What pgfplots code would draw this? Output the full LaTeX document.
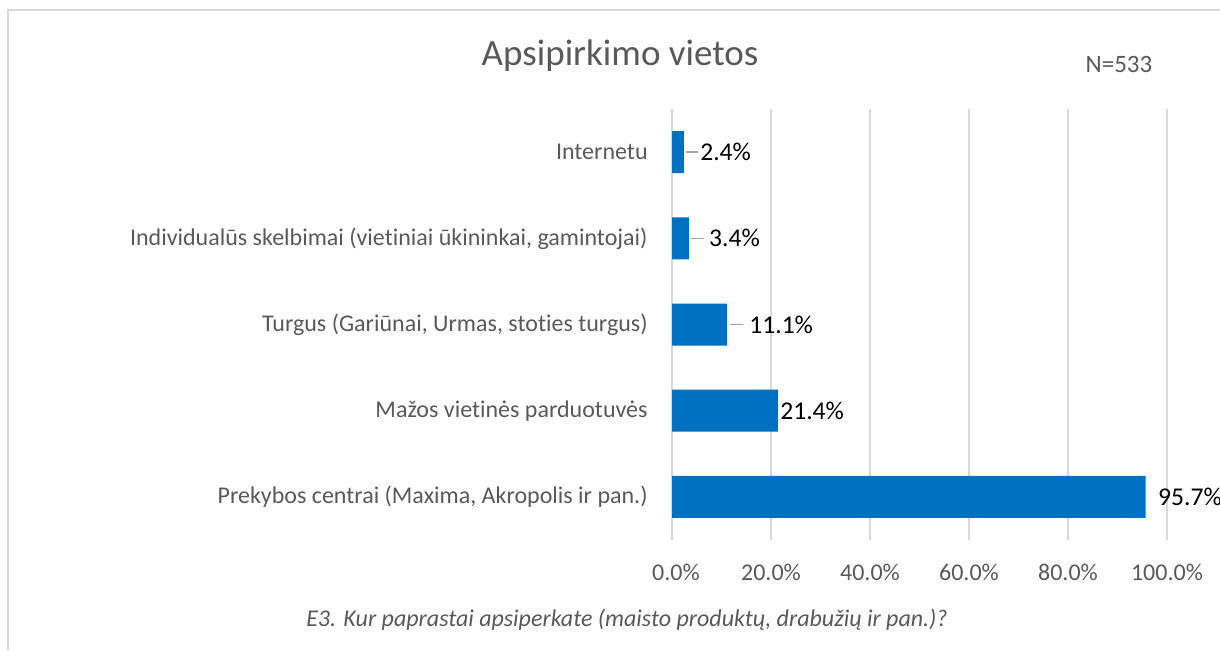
\documentclass[border=0pt]{standalone}
\usepackage{pgfplots}
\pgfplotsset{compat=1.18}
\usepackage{pgfplotstable}
\usepackage{fontspec}
\setmainfont{Carlito}[Ligatures=NoCommon]
\definecolor{barblue}{RGB}{0,112,192}
\definecolor{txtgray}{RGB}{89,89,89}
\definecolor{gridgray}{RGB}{217,217,217}
\definecolor{leadgray}{RGB}{166,166,166}

% rows bottom to top; dx = label gap after bar end (pt)
\pgfplotstableread{
idx val dx
0 95.7 6
1 21.4 1
2 11.1 11
3 3.4 10
4 2.4 8
}\shops

\begin{document}
\begin{tikzpicture}
\useasboundingbox (0,0) rectangle (610pt,325pt);
\draw[gridgray, line width=0.8pt] (4pt,0) -- (4pt,320pt) -- (611pt,320pt);
\node[font=\fontsize{18.5}{20}\selectfont, text=txtgray] at (310pt,297pt) {Apsipirkimo vietos};
\node[font=\fontsize{12.5}{14}\selectfont, text=txtgray] at (559.5pt,293pt) {N=533};
\begin{axis}[
  at={(336pt,55pt)}, anchor=south west,
  scale only axis, width=247.5pt, height=215.5pt,
  xmin=0, xmax=100, ymin=-0.5, ymax=4.5,
  xbar, bar width=21pt,
  axis x line=none,
  axis y line*=left,
  axis line style={gridgray, line width=0.8pt},
  xtick={0,20,40,60,80,100},
  ytick={0,1,2,3,4},
  yticklabels={Prekybos centrai (Maxima{,} Akropolis ir pan.),
    Mažos vietinės parduotuvės,
    Turgus (Gariūnai{,} Urmas{,} stoties turgus),
    Individualūs skelbimai (vietiniai ūkininkai{,} gamintojai),
    Internetu},
  yticklabel style={font=\fontsize{12}{14}\selectfont, text=txtgray, inner xsep=0pt, xshift=-12pt},
  major tick length=0pt,
  clip=false,
  /pgf/number format/assume math mode=true,
  point meta=x,
  visualization depends on={\thisrow{dx} \as \dx},
  nodes near coords={\pgfmathprintnumber[fixed,fixed zerofill,precision=1]{\pgfplotspointmeta}\%},
  every node near coord/.append style={font=\fontsize{12.8}{15}\selectfont, text=black, anchor=west, inner xsep=0pt, xshift=\dx pt},
]
\foreach \v in {20,40,60,80,100} {
  \edef\tmp{\noexpand\draw[gridgray, line width=0.8pt] (axis cs:\v,-0.5) -- (axis cs:\v,4.5);}
  \tmp
  \edef\tmp{\noexpand\node[font=\noexpand\fontsize{12}{14}\noexpand\selectfont, text=txtgray] at (axis cs:\v,-0.5) [yshift=-16pt] {\v.0\noexpand\%};}
  \tmp
}
\node[font=\fontsize{12}{14}\selectfont, text=txtgray] at (axis cs:0,-0.5) [yshift=-16pt, xshift=2pt] {0.0\%};
\addplot[fill=barblue, draw=none] table[x=val, y=idx] {\shops};
% leader lines
\draw[leadgray, line width=0.8pt] ([xshift=1pt]axis cs:2.4,4) -- ([xshift=7pt]axis cs:2.4,4);
\draw[leadgray, line width=0.8pt] ([xshift=1pt]axis cs:3.4,3) -- ([xshift=7.5pt]axis cs:3.4,3);
\draw[leadgray, line width=0.8pt] ([xshift=1.5pt]axis cs:11.1,2) -- ([xshift=8pt]axis cs:11.1,2);
\end{axis}
\node[font=\fontsize{12}{14}\itshape\selectfont, text=txtgray] at (313.5pt,15pt) {E3. Kur paprastai apsiperkate (maisto produktų, drabužių ir pan.)?};
\end{tikzpicture}
\end{document}
